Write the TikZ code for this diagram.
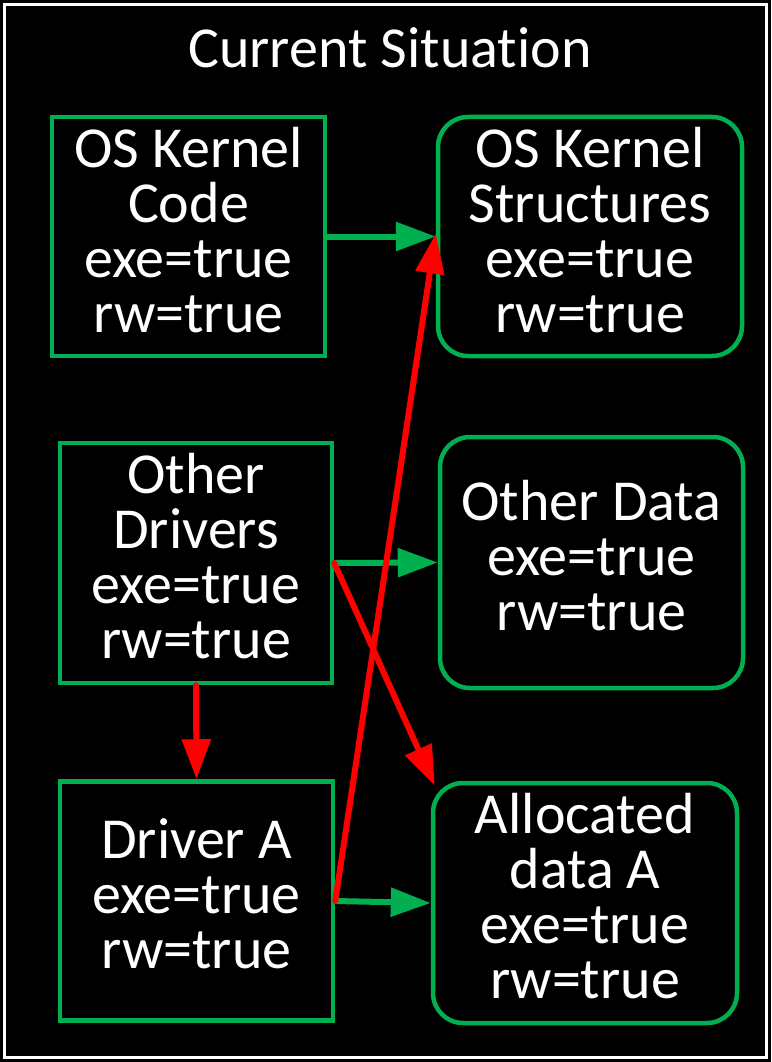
\documentclass[tikz,border=0pt]{standalone}
\usepackage{fontspec}
\setmainfont[Ligatures=NoCommon]{Carlito}
\usetikzlibrary{arrows.meta}
\definecolor{boxgreen}{HTML}{00B050}
\begin{document}
\begin{tikzpicture}[
x=1pt,y=-1pt,
every node/.style={
text=white,
align=center,
font=\fontsize{58}{55}\selectfont
},
codebox/.style={
draw=boxgreen,
line width=4.5pt,
inner ysep=0pt,
text depth=14pt,
minimum width=273pt,
minimum height=239pt
},
databox/.style={
codebox,
rounded corners=30pt,
minimum width=304pt
},
okarrow/.style={
draw=boxgreen,
line width=6pt,
-{Triangle[length=40pt,width=28pt]}
},
badarrow/.style={
draw=red,
line width=6pt,
line cap=round,
-{Triangle[length=40pt,width=28pt]}
}
]

\fill[black] (0,0) rectangle (771,1062);
\draw[white,line width=3pt] (4.5,4.5) rectangle (766.5,1057.5);

\node[anchor=base] (Titre) at (390,68)
{Current Situation};

\node[codebox] (KCode) at (188.5,236.5)
{OS Kernel\\Code\\exe=true\\rw=true};

\node[databox] (KStruct) at (590,236.5)
{OS Kernel\\Structures\\exe=true\\rw=true};

\node[codebox,minimum width=272pt,minimum height=240pt] (Drivers) at (196,563)
{Other\\Drivers\\exe=true\\rw=true};

\node[databox,minimum width=303pt,minimum height=251pt] (Data) at (591.5,562.5)
{Other Data\\exe=true\\rw=true};

\node[codebox] (DrvA) at (196.5,901)
{Driver A\\exe=true\\rw=true};

\node[databox,minimum height=240pt] (AllocA) at (585,903)
{Allocated\\data A\\exe=true\\rw=true};

\draw[okarrow] (KCode.east) -- (KStruct.west);
\draw[okarrow] (Drivers.east) -- (Data.west);
\draw[okarrow] (DrvA.east) -- (AllocA.west);

\draw[badarrow] (Drivers.south) -- (DrvA.north);
\draw[badarrow] (Drivers.east) -- ([xshift=4pt,yshift=-5pt]AllocA.north west);
\draw[badarrow] (DrvA.east) -- ([yshift=3pt]KStruct.west);

\end{tikzpicture}
\end{document}
